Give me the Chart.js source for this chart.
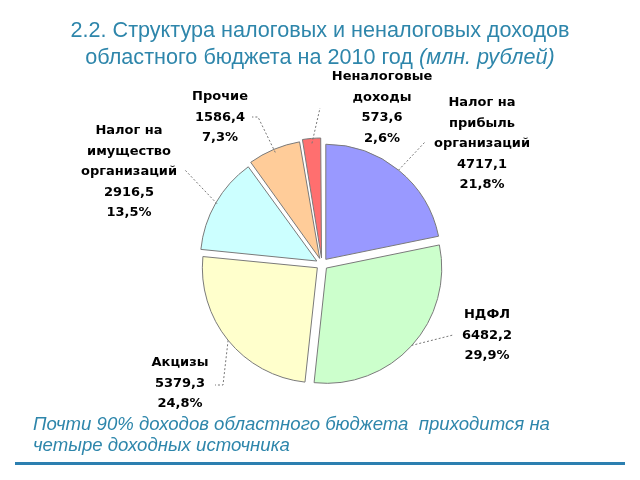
<!DOCTYPE html>
<html>
<head>
<meta charset="utf-8">
<script src="https://cdn.jsdelivr.net/npm/chart.js@4"></script>
<style>
  html, body { margin: 0; padding: 0; background: #fff; }
  #wrap { position: relative; width: 640px; height: 480px; overflow: hidden; }
  #c { position: absolute; left: 0; top: 0; }
  .title { position: absolute; left: 0; width: 640px; text-align: center;
           font-family: "Liberation Sans", Arial, sans-serif; font-size: 21.6px; color: #2E86AB; white-space: nowrap; }
  .foot { position: absolute; left: 33px; font-family: "Liberation Sans", Arial, sans-serif;
          font-style: italic; font-size: 18.6px; color: #2E86AB; white-space: pre; }
  #rule { position: absolute; left: 15px; top: 462px; width: 610px; height: 3px; background: #2C7FB0; }
</style>
</head>
<body>
<div id="wrap">
  <canvas id="c" width="640" height="480"></canvas>
  <div class="title" style="top:17px">2.2. Структура налоговых и неналоговых доходов</div>
  <div class="title" style="top:44px">областного бюджета на 2010 год <i>(млн. рублей)</i></div>
  <div class="foot" style="top:413px">Почти 90% доходов областного бюджета  приходится на</div>
  <div class="foot" style="top:434px">четыре доходных источника</div>
  <div id="rule"></div>
</div>
<script>
// ---- data ----
const categories = [
  ["Налог на", "прибыль", "организаций"],
  ["НДФЛ"],
  ["Акцизы"],
  ["Налог на", "имущество", "организаций"],
  ["Прочие"],
  ["Неналоговые", "доходы"]
];
const values = [4717.1, 6482.2, 5379.3, 2916.5, 1586.4, 573.6];
const valueLabels = ["4717,1", "6482,2", "5379,3", "2916,5", "1586,4", "573,6"];
const percentLabels = ["21,8%", "29,9%", "24,8%", "13,5%", "7,3%", "2,6%"];
const sliceColors = ["#9999FF", "#CCFFCC", "#FFFFCC", "#CCFFFF", "#FFCC99", "#FF6F6F"];

// ---- label layout (relative to pie centre) ----
const labelAnchor = [[160, -161], [165, 51], [-142, 99], [-193, -133], [-102, -167], [60, -187]];
const leaderEnd   = [[103, -122], [131, 71], [-99, 121], [-137, -94], [-64, -147], [-2, -156]];
const leaderTail  = [null, null, [-107, 121], null, [-70, -147], null];
const lineStep = 20.5;

const labelPlugin = {
  id: 'pieLabels',
  afterDatasetsDraw(chart) {
    const ctx = chart.ctx;
    const meta = chart.getDatasetMeta(0);
    const off = chart.data.datasets[0].offset / 4;
    meta.data.forEach((arc, i) => {
      const p = arc.getProps(['x', 'y', 'startAngle', 'endAngle', 'outerRadius'], true);
      const mid = (p.startAngle + p.endAngle) / 2;
      const r = p.outerRadius + off;
      const sx = p.x + Math.cos(mid) * r;
      const sy = p.y + Math.sin(mid) * r;
      ctx.save();
      ctx.strokeStyle = '#777';
      ctx.lineWidth = 1;
      ctx.setLineDash([2, 2]);
      ctx.beginPath();
      ctx.moveTo(sx, sy);
      ctx.lineTo(p.x + leaderEnd[i][0], p.y + leaderEnd[i][1]);
      if (leaderTail[i]) ctx.lineTo(p.x + leaderTail[i][0], p.y + leaderTail[i][1]);
      ctx.stroke();
      ctx.restore();

      const lines = categories[i].concat([valueLabels[i], percentLabels[i]]);
      ctx.save();
      ctx.fillStyle = '#000';
      ctx.font = 'bold 13px "DejaVu Sans", sans-serif';
      ctx.textAlign = 'center';
      ctx.textBaseline = 'middle';
      lines.forEach((t, k) => {
        ctx.fillText(t, p.x + labelAnchor[i][0], p.y + labelAnchor[i][1] + k * lineStep);
      });
      ctx.restore();
    });
  }
};

new Chart(document.getElementById('c'), {
  type: 'pie',
  data: {
    labels: categories.map(c => c.join(' ')),
    datasets: [{
      data: values,
      backgroundColor: sliceColors,
      borderColor: '#7a7a7a',
      borderWidth: 1,
      offset: 24
    }]
  },
  options: {
    responsive: false,
    animation: false,
    radius: 115,
    layout: { padding: { left: 4, right: 0, top: 48, bottom: 0 } },
    plugins: { legend: { display: false }, tooltip: { enabled: false }, title: { display: false } }
  },
  plugins: [labelPlugin]
});
</script>
</body>
</html>
